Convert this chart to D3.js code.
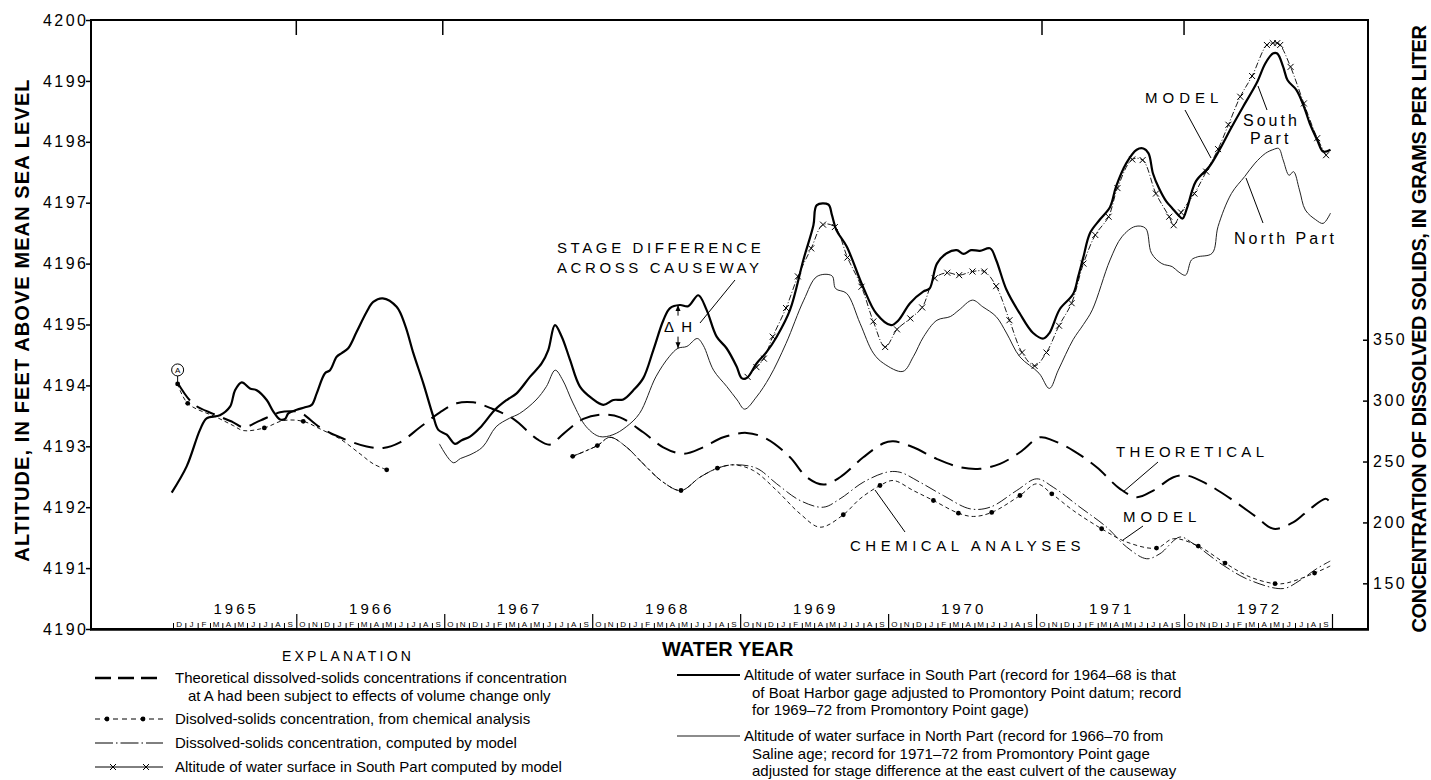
<!DOCTYPE html>
<html>
<head>
<meta charset="utf-8">
<script src="https://cdn.jsdelivr.net/npm/d3@7"></script>
<style>
  html, body { margin: 0; padding: 0; background: #fff; }
  svg { display: block; font-family: "Liberation Sans", Arial, Helvetica, sans-serif; }
</style>
</head>
<body>
<svg id="chart" width="1431" height="780"></svg>
<script>
// ---- Water-surface altitude, feet above mean sea level (decimal year, altitude) ----
const southPart = [
  [1964.908,4192.24],[1965.009,4192.67],[1965.099,4193.27],[1965.144,4193.46],[1965.234,4193.51],
  [1965.302,4193.65],[1965.336,4193.92],[1965.381,4194.05],[1965.437,4193.95],[1965.482,4193.92],
  [1965.550,4193.76],[1965.595,4193.57],[1965.640,4193.44],[1965.674,4193.45],[1965.696,4193.54],
  [1965.753,4193.60],[1965.809,4193.64],[1965.854,4193.68],[1965.888,4193.87],[1965.944,4194.20],
  [1965.978,4194.25],[1966.023,4194.47],[1966.057,4194.53],[1966.101,4194.61],[1966.158,4194.88],
  [1966.226,4195.21],[1966.270,4195.37],[1966.334,4195.43],[1966.428,4195.29],[1966.485,4194.99],
  [1966.541,4194.53],[1966.609,4194.03],[1966.676,4193.49],[1966.710,4193.27],[1966.767,4193.19],
  [1966.823,4193.04],[1966.868,4193.10],[1966.924,4193.16],[1966.990,4193.30],[1967.093,4193.60],
  [1967.172,4193.76],[1967.239,4193.87],[1967.329,4194.14],[1967.408,4194.36],[1967.453,4194.58],
  [1967.498,4194.99],[1967.544,4194.80],[1967.600,4194.42],[1967.667,4193.98],[1967.746,4193.79],
  [1967.825,4193.68],[1967.893,4193.76],[1967.960,4193.77],[1968.028,4193.92],[1968.095,4194.12],
  [1968.163,4194.58],[1968.231,4195.07],[1968.276,4195.27],[1968.343,4195.32],[1968.399,4195.30],
  [1968.467,4195.48],[1968.523,4195.24],[1968.591,4194.80],[1968.658,4194.61],[1968.726,4194.31],
  [1968.760,4194.12],[1968.794,4194.12],[1968.861,4194.36],[1968.929,4194.55],[1968.997,4194.80],
  [1969.087,4195.24],[1969.177,4196.06],[1969.245,4196.63],[1969.268,4196.96],[1969.346,4196.97],
  [1969.370,4196.80],[1969.400,4196.55],[1969.470,4196.28],[1969.580,4195.62],[1969.670,4195.18],
  [1969.770,4194.99],[1969.820,4195.07],[1969.898,4195.35],[1969.987,4195.54],[1970.030,4195.59],
  [1970.080,4196.00],[1970.146,4196.17],[1970.214,4196.22],[1970.260,4196.16],[1970.310,4196.22],
  [1970.370,4196.21],[1970.440,4196.25],[1970.480,4196.06],[1970.550,4195.57],[1970.640,4195.18],
  [1970.730,4194.86],[1970.800,4194.77],[1970.840,4194.86],[1970.910,4195.25],[1971.000,4195.50],
  [1971.035,4195.79],[1971.070,4196.11],[1971.114,4196.50],[1971.180,4196.72],[1971.250,4196.93],
  [1971.290,4197.26],[1971.360,4197.65],[1971.430,4197.87],[1971.475,4197.89],[1971.510,4197.81],
  [1971.540,4197.48],[1971.580,4197.24],[1971.630,4197.02],[1971.670,4196.91],[1971.710,4196.80],
  [1971.740,4196.74],[1971.770,4196.91],[1971.830,4197.35],[1971.920,4197.59],[1971.990,4197.87],
  [1972.060,4198.19],[1972.150,4198.58],[1972.240,4198.96],[1972.300,4199.29],[1972.350,4199.45],
  [1972.380,4199.45],[1972.420,4199.23],[1972.450,4199.01],[1972.510,4198.85],[1972.560,4198.58],
  [1972.600,4198.30],[1972.650,4198.03],[1972.690,4197.84],[1972.740,4197.87]
];

const northPart = [
  [1966.717,4193.04],[1966.811,4192.73],[1966.860,4192.80],[1966.924,4192.86],[1967.010,4192.99],
  [1967.100,4193.32],[1967.190,4193.46],[1967.260,4193.54],[1967.370,4193.76],[1967.440,4193.98],
  [1967.500,4194.25],[1967.550,4194.09],[1967.620,4193.71],[1967.710,4193.32],[1967.800,4193.16],
  [1967.890,4193.19],[1967.980,4193.32],[1968.070,4193.54],[1968.180,4194.14],[1968.270,4194.47],
  [1968.330,4194.61],[1968.390,4194.64],[1968.460,4194.77],[1968.500,4194.66],[1968.570,4194.25],
  [1968.660,4193.98],[1968.730,4193.76],[1968.780,4193.61],[1968.860,4193.81],[1968.950,4194.14],
  [1969.060,4194.69],[1969.180,4195.40],[1969.270,4195.79],[1969.370,4195.80],[1969.395,4195.59],
  [1969.470,4195.51],[1969.560,4195.02],[1969.650,4194.53],[1969.720,4194.36],[1969.850,4194.23],
  [1969.920,4194.47],[1969.990,4194.80],[1970.080,4195.07],[1970.170,4195.13],[1970.230,4195.24],
  [1970.320,4195.40],[1970.390,4195.29],[1970.480,4195.13],[1970.550,4194.86],[1970.640,4194.47],
  [1970.770,4194.20],[1970.840,4193.95],[1970.900,4194.25],[1971.000,4194.75],[1971.070,4195.00],
  [1971.130,4195.24],[1971.250,4196.06],[1971.330,4196.44],[1971.420,4196.61],[1971.490,4196.58],
  [1971.530,4196.17],[1971.600,4196.00],[1971.670,4195.95],[1971.710,4195.87],[1971.760,4195.81],
  [1971.800,4196.06],[1971.840,4196.11],[1971.940,4196.17],[1971.980,4196.61],[1972.070,4197.15],
  [1972.160,4197.43],[1972.230,4197.65],[1972.300,4197.81],[1972.350,4197.87],[1972.390,4197.89],
  [1972.420,4197.70],[1972.460,4197.45],[1972.490,4197.51],[1972.530,4197.21],[1972.570,4196.88],
  [1972.640,4196.72],[1972.690,4196.66],[1972.740,4196.83]
];

// South Part altitude computed by the model (one "x" per computed value)
const southModel = [
  [1968.800,4194.14],[1968.860,4194.30],[1968.910,4194.44],[1968.970,4194.80],[1969.060,4195.27],
  [1969.140,4195.79],[1969.230,4196.25],[1969.310,4196.64],[1969.390,4196.60],[1969.475,4196.10],
  [1969.570,4195.62],[1969.650,4195.05],[1969.730,4194.63],[1969.810,4194.92],[1969.900,4195.10],
  [1969.980,4195.28],[1970.065,4195.76],[1970.150,4195.85],[1970.230,4195.81],[1970.320,4195.87],
  [1970.400,4195.87],[1970.480,4195.63],[1970.570,4195.07],[1970.655,4194.54],[1970.740,4194.32],
  [1970.820,4194.54],[1970.905,4194.98],[1970.990,4195.35],[1971.070,4196.00],[1971.150,4196.47],
  [1971.240,4196.77],[1971.300,4197.24],[1971.400,4197.71],[1971.470,4197.70],[1971.560,4197.15],
  [1971.650,4196.77],[1971.680,4196.63],[1971.730,4196.84],[1971.820,4197.15],[1971.900,4197.51],
  [1971.980,4197.88],[1972.050,4198.28],[1972.130,4198.74],[1972.210,4199.08],[1972.310,4199.59],
  [1972.350,4199.62],[1972.380,4199.62],[1972.400,4199.59],[1972.470,4199.23],[1972.560,4198.63],
  [1972.650,4198.06],[1972.710,4197.78]
];

// ---- Dissolved-solids concentration, grams per liter (decimal year, g/L) ----
const theoretical = [
  [1964.953,313.7],[1965.054,297.3],[1965.189,289.1],[1965.324,282.2],[1965.392,278.1],
  [1965.505,283.6],[1965.640,290.4],[1965.708,291.2],[1965.775,290.4],[1965.910,278.1],
  [1966.045,269.9],[1966.226,262.3],[1966.338,261.2],[1966.451,265.8],[1966.586,278.1],
  [1966.721,290.4],[1966.834,297.8],[1966.946,298.6],[1967.059,294.0],[1967.217,285.0],
  [1967.375,268.6],[1967.465,263.9],[1967.555,272.7],[1967.690,285.0],[1967.825,288.5],
  [1967.938,286.3],[1968.095,274.0],[1968.230,261.7],[1968.366,256.3],[1968.501,261.7],
  [1968.636,269.9],[1968.794,273.5],[1968.929,268.6],[1969.087,253.5],[1969.200,237.1],
  [1969.312,231.1],[1969.425,237.1],[1969.582,253.5],[1969.718,265.0],[1969.785,266.6],
  [1969.920,261.7],[1970.078,252.2],[1970.236,245.3],[1970.371,244.0],[1970.506,248.1],
  [1970.641,257.6],[1970.776,269.9],[1970.866,267.2],[1971.001,259.0],[1971.160,245.3],
  [1971.317,227.6],[1971.430,220.7],[1971.542,226.2],[1971.678,237.1],[1971.768,238.5],
  [1971.903,231.7],[1972.083,218.0],[1972.241,204.3],[1972.355,194.8],[1972.490,200.2],
  [1972.602,211.2],[1972.706,219.4],[1972.728,218.0]
];

// Concentration from chemical analyses: the dashed curve, in two separate records
const chemEarly = [
  [1964.948,313.7],[1965.016,297.8],[1965.212,286.3],[1965.324,279.5],[1965.392,275.4],
  [1965.534,277.6],[1965.662,283.6],[1965.797,283.0],[1965.910,276.8],[1966.045,268.6],
  [1966.181,256.3],[1966.270,248.1],[1966.361,243.2]
];
const chemLate = [
  [1967.618,254.3],[1967.785,263.1],[1967.870,269.9],[1967.983,261.7],[1968.095,248.1],
  [1968.230,233.0],[1968.350,226.2],[1968.478,237.1],[1968.596,244.5],[1968.704,247.3],
  [1968.839,242.6],[1968.997,226.2],[1969.155,207.1],[1969.290,196.1],[1969.447,206.3],
  [1969.560,219.4],[1969.695,230.3],[1969.785,234.4],[1969.920,226.2],[1970.056,218.0],
  [1970.225,207.6],[1970.326,204.9],[1970.450,208.2],[1970.641,222.1],[1970.754,231.7],
  [1970.856,223.5],[1971.001,209.8],[1971.193,194.8],[1971.362,183.9],[1971.564,178.9],
  [1971.678,186.6],[1971.846,180.6],[1972.027,166.6],[1972.196,155.2],[1972.365,149.7],
  [1972.445,150.3],[1972.632,158.4],[1972.738,164.2]
];
// Individual analyses (dots)
const chemSamples = [
  [1964.948,313.7],[1965.016,297.8],[1965.534,277.6],[1965.797,283.0],[1966.361,243.2],
  [1967.618,254.3],[1967.785,263.1],[1968.350,226.2],[1968.596,244.5],[1969.447,206.3],
  [1969.695,230.3],[1970.056,218.0],[1970.225,207.6],[1970.450,208.2],[1970.641,222.1],
  [1970.856,223.5],[1971.193,194.8],[1971.564,178.9],[1971.846,180.6],[1972.027,166.6],
  [1972.365,149.7],[1972.632,158.4]
];

// Concentration computed by the model
const modelConc = [
  [1967.618,254.3],[1967.785,263.1],[1967.870,269.9],[1967.983,261.7],[1968.095,248.1],
  [1968.230,233.0],[1968.350,226.2],[1968.478,237.1],[1968.596,244.5],[1968.704,247.3],
  [1968.861,244.5],[1968.997,231.7],[1969.155,218.0],[1969.312,212.5],[1969.425,219.4],
  [1969.582,233.0],[1969.740,241.2],[1969.830,241.2],[1969.965,233.0],[1970.123,222.1],
  [1970.303,211.2],[1970.439,212.5],[1970.619,226.2],[1970.754,235.8],[1970.866,228.9],
  [1971.047,212.5],[1971.227,196.1],[1971.362,179.8],[1971.497,170.2],[1971.587,174.3],
  [1971.722,188.0],[1971.813,182.5],[1972.015,164.8],[1972.196,152.5],[1972.421,145.7],
  [1972.534,152.5],[1972.646,162.0],[1972.738,168.3]
];

// Stage difference across the causeway, read at one date
const deltaH = { year: 1968.33, south: 4195.32, north: 4194.61 };

// ---- Axes ----
const altTicks = d3.range(4190, 4201, 1);
const concTicks = [150, 200, 250, 300, 350];
const waterYears = [1965, 1966, 1967, 1968, 1969, 1970, 1971, 1972];
const monthLetters = ["O","N","D","J","F","M","A","M","J","J","A","S"];
const topTicks = [1965.75, 1966.74, 1970.79, 1971.75];
const recordStart = 1964 + 11 / 12;   // 1 December 1964
const recordEnd = 1972.75;            // 30 September 1972

// ---- Explanation ----
const legendLeft = [
  ["Theoretical dissolved-solids concentrations if concentration",
   "at A had been subject to effects of volume change only"],
  ["Disolved-solids concentration, from chemical analysis"],
  ["Dissolved-solids concentration, computed by model"],
  ["Altitude of water surface in South Part computed by model"]
];
const legendRight = [
  ["Altitude of water surface in South Part (record for 1964\u201368 is that",
   "of Boat Harbor gage adjusted to Promontory Point datum; record",
   "for 1969\u201372 from Promontory Point gage)"],
  ["Altitude of water surface in North Part (record for 1966\u201370 from",
   "Saline age; record for 1971\u201372 from Promontory Point gage",
   "adjusted for stage difference at the east culvert of the causeway"]
];

// ================= drawing =================
const svg = d3.select("#chart");
const box = { left: 91, right: 1368, top: 20, bottom: 629 };

const x = d3.scaleLinear().domain([recordStart, recordEnd]).range([173, 1332]);
const yAlt = d3.scaleLinear().domain([4190, 4200]).range([box.bottom, box.top]);
const yConc = d3.scaleLinear().domain([112.5, 612.5]).range([box.bottom, box.top]);

const curve = d3.curveCatmullRom.alpha(0.5);
const altLine = d3.line().x(d => x(d[0])).y(d => yAlt(d[1])).curve(curve);
const concLine = d3.line().x(d => x(d[0])).y(d => yConc(d[1])).curve(curve);

// left axis
const leftAxis = svg.append("g").attr("transform", `translate(${box.left},0)`)
  .call(d3.axisLeft(yAlt).tickValues(altTicks).tickSize(5).tickPadding(-2.5).tickFormat(d3.format("d")));
leftAxis.select(".domain").remove();
leftAxis.selectAll("line").attr("stroke", "#000").attr("stroke-width", 1.5);
leftAxis.selectAll("text").attr("font-size", 16).attr("letter-spacing", 2.5)
  .attr("fill", "#000").style("font-family", "inherit");

// right axis (ticks point inward)
const rightAxis = svg.append("g").attr("transform", `translate(${box.right},0)`)
  .call(d3.axisRight(yConc).tickValues(concTicks).tickSize(-5).tickPadding(5));
rightAxis.select(".domain").remove();
rightAxis.selectAll("line").attr("stroke", "#000").attr("stroke-width", 1.5);
rightAxis.selectAll("text").attr("font-size", 16).attr("letter-spacing", 2.5)
  .attr("fill", "#000").style("font-family", "inherit");

// top ticks
svg.append("g").selectAll("line").data(topTicks).join("line")
  .attr("x1", d => x(d)).attr("x2", d => x(d))
  .attr("y1", box.top).attr("y2", box.top + 15)
  .attr("stroke", "#000").attr("stroke-width", 1.5);

// bottom month ticks and water-year boundaries
const nMonths = Math.round((recordEnd - recordStart) * 12);
const boundaries = d3.range(0, nMonths + 1).map(i => recordStart + i / 12);
const isYearEdge = v => Math.abs(((v - 1964.75) * 12) % 12) < 1e-6 || Math.abs(v - recordEnd) < 1e-6;
const monthAxis = svg.append("g").attr("transform", `translate(0,${box.bottom})`)
  .call(d3.axisBottom(x).tickValues(boundaries.filter(v => !isYearEdge(v))).tickSize(-6).tickFormat(""));
monthAxis.select(".domain").remove();
monthAxis.selectAll("line").attr("stroke", "#000").attr("stroke-width", 1);
const yearAxis = svg.append("g").attr("transform", `translate(0,${box.bottom})`)
  .call(d3.axisBottom(x).tickValues(boundaries.filter(isYearEdge)).tickSize(-15).tickFormat(""));
yearAxis.select(".domain").remove();
yearAxis.selectAll("line").attr("stroke", "#000").attr("stroke-width", 1.2);

// month initials
const months = d3.range(0, nMonths).map(i => {
  const start = recordStart + i / 12;
  const k = Math.round((start - 1964.75) * 12) % 12;
  return { mid: start + 1 / 24, letter: monthLetters[k] };
});
svg.append("g").selectAll("text").data(months).join("text")
  .attr("x", d => x(d.mid)).attr("y", box.bottom - 2)
  .attr("text-anchor", "middle").attr("font-size", 8).attr("fill", "#000")
  .text(d => d.letter);

// water-year labels
svg.append("g").selectAll("text").data(waterYears).join("text")
  .attr("x", d => x((Math.max(d - 0.25, recordStart) + d + 0.75) / 2) + 1.5)
  .attr("y", 614)
  .attr("text-anchor", "middle").attr("font-size", 15).attr("letter-spacing", 3)
  .text(d => d);

// frame
svg.append("rect").attr("x", box.left).attr("y", box.top)
  .attr("width", box.right - box.left).attr("height", box.bottom - box.top)
  .attr("fill", "none").attr("stroke", "#000").attr("stroke-width", 2);
svg.append("line").attr("x1", box.left - 1).attr("x2", box.right + 1)
  .attr("y1", box.bottom + 0.5).attr("y2", box.bottom + 0.5)
  .attr("stroke", "#000").attr("stroke-width", 2.5);

// axis titles
svg.append("text").attr("transform", "translate(22,320) rotate(-90)")
  .attr("text-anchor", "middle").attr("dy", "0.35em")
  .attr("font-size", 20).attr("font-weight", "bold").attr("letter-spacing", 1.1)
  .text("ALTITUDE, IN FEET ABOVE MEAN SEA LEVEL");
svg.append("text").attr("transform", "translate(1419,329) rotate(-90)")
  .attr("text-anchor", "middle").attr("dy", "0.35em")
  .attr("font-size", 20).attr("font-weight", "bold").attr("letter-spacing", -0.4)
  .text("CONCENTRATION OF DISSOLVED SOLIDS, IN GRAMS PER LITER");

// ---- series ----
const plot = svg.append("g");

plot.append("path").datum(theoretical).attr("d", concLine)
  .attr("fill", "none").attr("stroke", "#000").attr("stroke-width", 2)
  .attr("stroke-dasharray", "20,9");

[chemEarly, chemLate].forEach(seg => {
  plot.append("path").datum(seg).attr("d", concLine)
    .attr("fill", "none").attr("stroke", "#000").attr("stroke-width", 0.9)
    .attr("stroke-dasharray", "4,3");
});
plot.append("path").datum(modelConc).attr("d", concLine)
  .attr("fill", "none").attr("stroke", "#000").attr("stroke-width", 0.9)
  .attr("stroke-dasharray", "12,3,1.5,3");
plot.append("g").selectAll("circle").data(chemSamples).join("circle")
  .attr("cx", d => x(d[0])).attr("cy", d => yConc(d[1])).attr("r", 2.4).attr("fill", "#000");

plot.append("path").datum(northPart).attr("d", altLine)
  .attr("fill", "none").attr("stroke", "#222").attr("stroke-width", 1);
plot.append("path").datum(southPart).attr("d", altLine)
  .attr("fill", "none").attr("stroke", "#000").attr("stroke-width", 2.2);
plot.append("path").datum(southModel).attr("d", altLine)
  .attr("fill", "none").attr("stroke", "#000").attr("stroke-width", 0.9)
  .attr("stroke-dasharray", "6,2,1,2");
const xMark = "M-3,-3L3,3M-3,3L3,-3";
plot.append("g").selectAll("path").data(southModel).join("path")
  .attr("transform", d => `translate(${x(d[0])},${yAlt(d[1])})`)
  .attr("d", xMark).attr("stroke", "#000").attr("stroke-width", 1).attr("fill", "none");

// point A (first analysis)
const a = chemSamples[0];
const ax = x(a[0]), ay = yConc(a[1]);
svg.append("line").attr("x1", ax).attr("x2", ax).attr("y1", ay - 8).attr("y2", ay)
  .attr("stroke", "#000").attr("stroke-width", 1);
svg.append("circle").attr("cx", ax).attr("cy", ay - 14).attr("r", 6)
  .attr("fill", "#fff").attr("stroke", "#000").attr("stroke-width", 1);
svg.append("text").attr("x", ax).attr("y", ay - 14).attr("dy", "0.35em")
  .attr("text-anchor", "middle").attr("font-size", 8).text("A");

// stage difference arrow
const dhX = x(deltaH.year), dhTop = yAlt(deltaH.south), dhBot = yAlt(deltaH.north);
const dhMid = (dhTop + dhBot) / 2;
const arrows = svg.append("g").attr("stroke", "#000").attr("stroke-width", 1);
arrows.append("line").attr("x1", dhX).attr("x2", dhX).attr("y1", dhTop).attr("y2", dhMid - 11);
arrows.append("line").attr("x1", dhX).attr("x2", dhX).attr("y1", dhMid + 10).attr("y2", dhBot);
svg.append("path").attr("d", `M${dhX},${dhTop}l-2.5,6h5z`).attr("fill", "#000");
svg.append("path").attr("d", `M${dhX},${dhBot}l-2.5,-6h5z`).attr("fill", "#000");
svg.append("text").attr("x", dhX + 1).attr("y", dhMid).attr("dy", "0.35em")
  .attr("text-anchor", "middle").attr("font-size", 15).attr("letter-spacing", 2)
  .text("\u0394 H");

// ---- labels with leader lines ----
const labels = [
  { t: "STAGE DIFFERENCE", x: 557, y: 248, ls: 3.6, size: 15 },
  { t: "ACROSS CAUSEWAY", x: 557, y: 268, ls: 3.6, size: 15 },
  { t: "CHEMICAL ANALYSES", x: 850, y: 546, ls: 4.5, size: 15 },
  { t: "THEORETICAL", x: 1116, y: 452, ls: 4.3, size: 15 },
  { t: "MODEL", x: 1123, y: 517, ls: 5, size: 15 },
  { t: "MODEL", x: 1145, y: 98, ls: 5, size: 15 },
  { t: "South", x: 1243, y: 120, ls: 3, size: 16 },
  { t: "Part", x: 1250, y: 138, ls: 3, size: 16 },
  { t: "North Part", x: 1234, y: 238, ls: 3, size: 16 }
];
svg.append("g").selectAll("text").data(labels).join("text")
  .attr("x", d => d.x).attr("y", d => d.y).attr("dy", "0.36em")
  .attr("font-size", d => d.size).attr("letter-spacing", d => d.ls)
  .text(d => d.t);
const leaders = [
  [735, 280, 700, 323],
  [905, 532, 875, 490],
  [1158, 462, 1123, 492],
  [1143, 526, 1123, 540],
  [1185, 110, 1211, 158],
  [1267, 110, 1258, 86],
  [1263, 223, 1246, 178]
];
svg.append("g").selectAll("line").data(leaders).join("line")
  .attr("x1", d => d[0]).attr("y1", d => d[1]).attr("x2", d => d[2]).attr("y2", d => d[3])
  .attr("stroke", "#000").attr("stroke-width", 1);

// ---- explanation ----
svg.append("text").attr("x", 348).attr("y", 656).attr("dy", "0.36em")
  .attr("text-anchor", "middle").attr("font-size", 14).attr("letter-spacing", 3.2)
  .text("EXPLANATION");
svg.append("text").attr("x", 662).attr("y", 649).attr("dy", "0.36em")
  .attr("font-size", 20).attr("font-weight", "bold")
  .text("WATER YEAR");

const leftRows = [678, 719, 743, 767];
const lg = svg.append("g");
legendLeft.forEach((lines, i) => {
  lines.forEach((s, j) => {
    lg.append("text").attr("x", j === 0 ? 175 : 188).attr("y", leftRows[i] + j * 18)
      .attr("dy", "0.36em").attr("font-size", 15).text(s);
  });
});
// legend symbols
const s0 = leftRows[0], s1 = leftRows[1], s2 = leftRows[2], s3 = leftRows[3];
lg.append("line").attr("x1", 95).attr("x2", 162).attr("y1", s0).attr("y2", s0)
  .attr("stroke", "#000").attr("stroke-width", 2.5).attr("stroke-dasharray", "16,7");
lg.append("line").attr("x1", 95).attr("x2", 163).attr("y1", s1).attr("y2", s1)
  .attr("stroke", "#000").attr("stroke-width", 1).attr("stroke-dasharray", "5,4");
[107, 143].forEach(cx => lg.append("circle").attr("cx", cx).attr("cy", s1).attr("r", 2.4));
lg.append("line").attr("x1", 95).attr("x2", 163).attr("y1", s2).attr("y2", s2)
  .attr("stroke", "#000").attr("stroke-width", 1).attr("stroke-dasharray", "18,3,1.5,3");
lg.append("line").attr("x1", 95).attr("x2", 163).attr("y1", s3).attr("y2", s3)
  .attr("stroke", "#000").attr("stroke-width", 1);
[113, 146].forEach(cx => lg.append("path").attr("transform", `translate(${cx},${s3})`)
  .attr("d", xMark).attr("stroke", "#000").attr("fill", "none").attr("stroke-width", 1));

const rightRows = [675, 736];
legendRight.forEach((lines, i) => {
  lines.forEach((s, j) => {
    lg.append("text").attr("x", j === 0 ? 744 : 752).attr("y", rightRows[i] + j * 17.5)
      .attr("dy", "0.36em").attr("font-size", 15).text(s);
  });
});
lg.append("line").attr("x1", 677).attr("x2", 740).attr("y1", rightRows[0]).attr("y2", rightRows[0])
  .attr("stroke", "#000").attr("stroke-width", 2);
lg.append("line").attr("x1", 677).attr("x2", 740).attr("y1", rightRows[1]).attr("y2", rightRows[1])
  .attr("stroke", "#666").attr("stroke-width", 1.5);
</script>
</body>
</html>
